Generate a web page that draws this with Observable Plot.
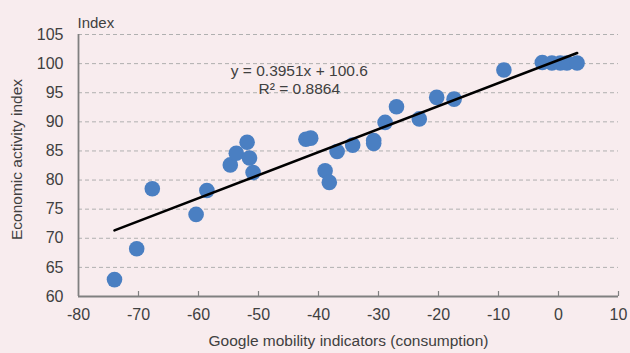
<!DOCTYPE html>
<html>
<head>
<meta charset="utf-8">
<script src="https://cdn.jsdelivr.net/npm/d3@7"></script>
<script src="https://cdn.jsdelivr.net/npm/@observablehq/plot@0.6"></script>
<style>
  html, body { margin: 0; padding: 0; background: #f8ecee; }
  #chart svg { display: block; }
</style>
</head>
<body>
<div id="chart"></div>
<script>
const mobility = [-74, -70.3, -67.7, -60.4, -58.6, -54.7, -53.7, -51.9, -51.5, -50.9, -42.1, -41.3, -38.9, -38.2, -36.9, -34.3, -30.8, -30.8, -28.9, -27.0, -23.2, -20.3, -17.4, -9.1, -2.7, -1.1, 0.3, 1.4, 3.1];
const activity = [62.9, 68.2, 78.5, 74.1, 78.2, 82.6, 84.6, 86.5, 83.8, 81.3, 87.0, 87.2, 81.6, 79.6, 84.9, 86.0, 86.8, 86.3, 89.9, 92.6, 90.5, 94.2, 93.9, 98.9, 100.2, 100.1, 100.1, 100.1, 100.1];
const slope = 0.3951;
const intercept = 100.6;
const rSquared = 0.8864;
const xTicks = [-80, -70, -60, -50, -40, -30, -20, -10, 0, 10];
const yTicks = [60, 65, 70, 75, 80, 85, 90, 95, 100, 105];

const points = mobility.map((x, i) => ({x, y: activity[i]}));
const xExt = d3.extent(mobility);
const fit = xExt.map(x => ({x, y: slope * x + intercept}));
const eqText = `y = ${slope}x + ${intercept}\nR² = ${rSquared}`;

const font = "'Liberation Sans', Arial, sans-serif";
const textColor = "#404040";

const chart = Plot.plot({
  width: 630,
  height: 353,
  marginLeft: 78,
  marginRight: 12,
  marginTop: 34,
  marginBottom: 57,
  style: {background: "#f8ecee", fontFamily: font, fontSize: "16px", color: textColor},
  x: {domain: [-80, 10], ticks: xTicks},
  y: {domain: [60, 105], ticks: yTicks},
  marks: [
    Plot.ruleY(yTicks.filter(d => d > 60), {y: d => d, stroke: "#b0b0b0", strokeDasharray: "4,3", strokeWidth: 1}),
    Plot.axisX(xTicks, {tickSize: 0, tickPadding: 12, label: null, fontSize: 16, fill: textColor, tickFormat: d => String(d)}),
    Plot.axisY(yTicks, {tickSize: 0, tickPadding: 15, label: null, fontSize: 16, fill: textColor, tickFormat: d => String(d)}),
    Plot.ruleX(xTicks.filter(d => d > -80), {x: d => d, y1: 60, y2: 60, insetBottom: 5, stroke: "#808080", strokeWidth: 1.2}),
    Plot.ruleY([60], {stroke: "#808080", strokeWidth: 1.8}),
    Plot.ruleX([-80], {stroke: "#808080", strokeWidth: 1.8}),
    Plot.dot(points, {x: "x", y: "y", r: 7.8, fill: "#4a7fc2", stroke: "none"}),
    Plot.line(fit, {x: "x", y: "y", stroke: "#000", strokeWidth: 2.6}),
    Plot.text([eqText], {x: -43.2, y: 97.25, text: d => d, textAnchor: "middle", lineHeight: 1.15, fontSize: 15.5, fill: textColor}),
    Plot.text(["Index"], {frameAnchor: "top-left", text: d => d, dy: -17, dx: -1, textAnchor: "start", fontSize: 15, fill: textColor}),
    Plot.text(["Economic activity index"], {frameAnchor: "left", text: d => d, rotate: -90, dx: -61, dy: -6, textAnchor: "middle", fontSize: 15.5, fill: textColor}),
    Plot.text(["Google mobility indicators (consumption)"], {frameAnchor: "bottom", text: d => d, dy: 49, fontSize: 15.5, fill: textColor})
  ]
});
document.getElementById("chart").appendChild(chart);
</script>
</body>
</html>
